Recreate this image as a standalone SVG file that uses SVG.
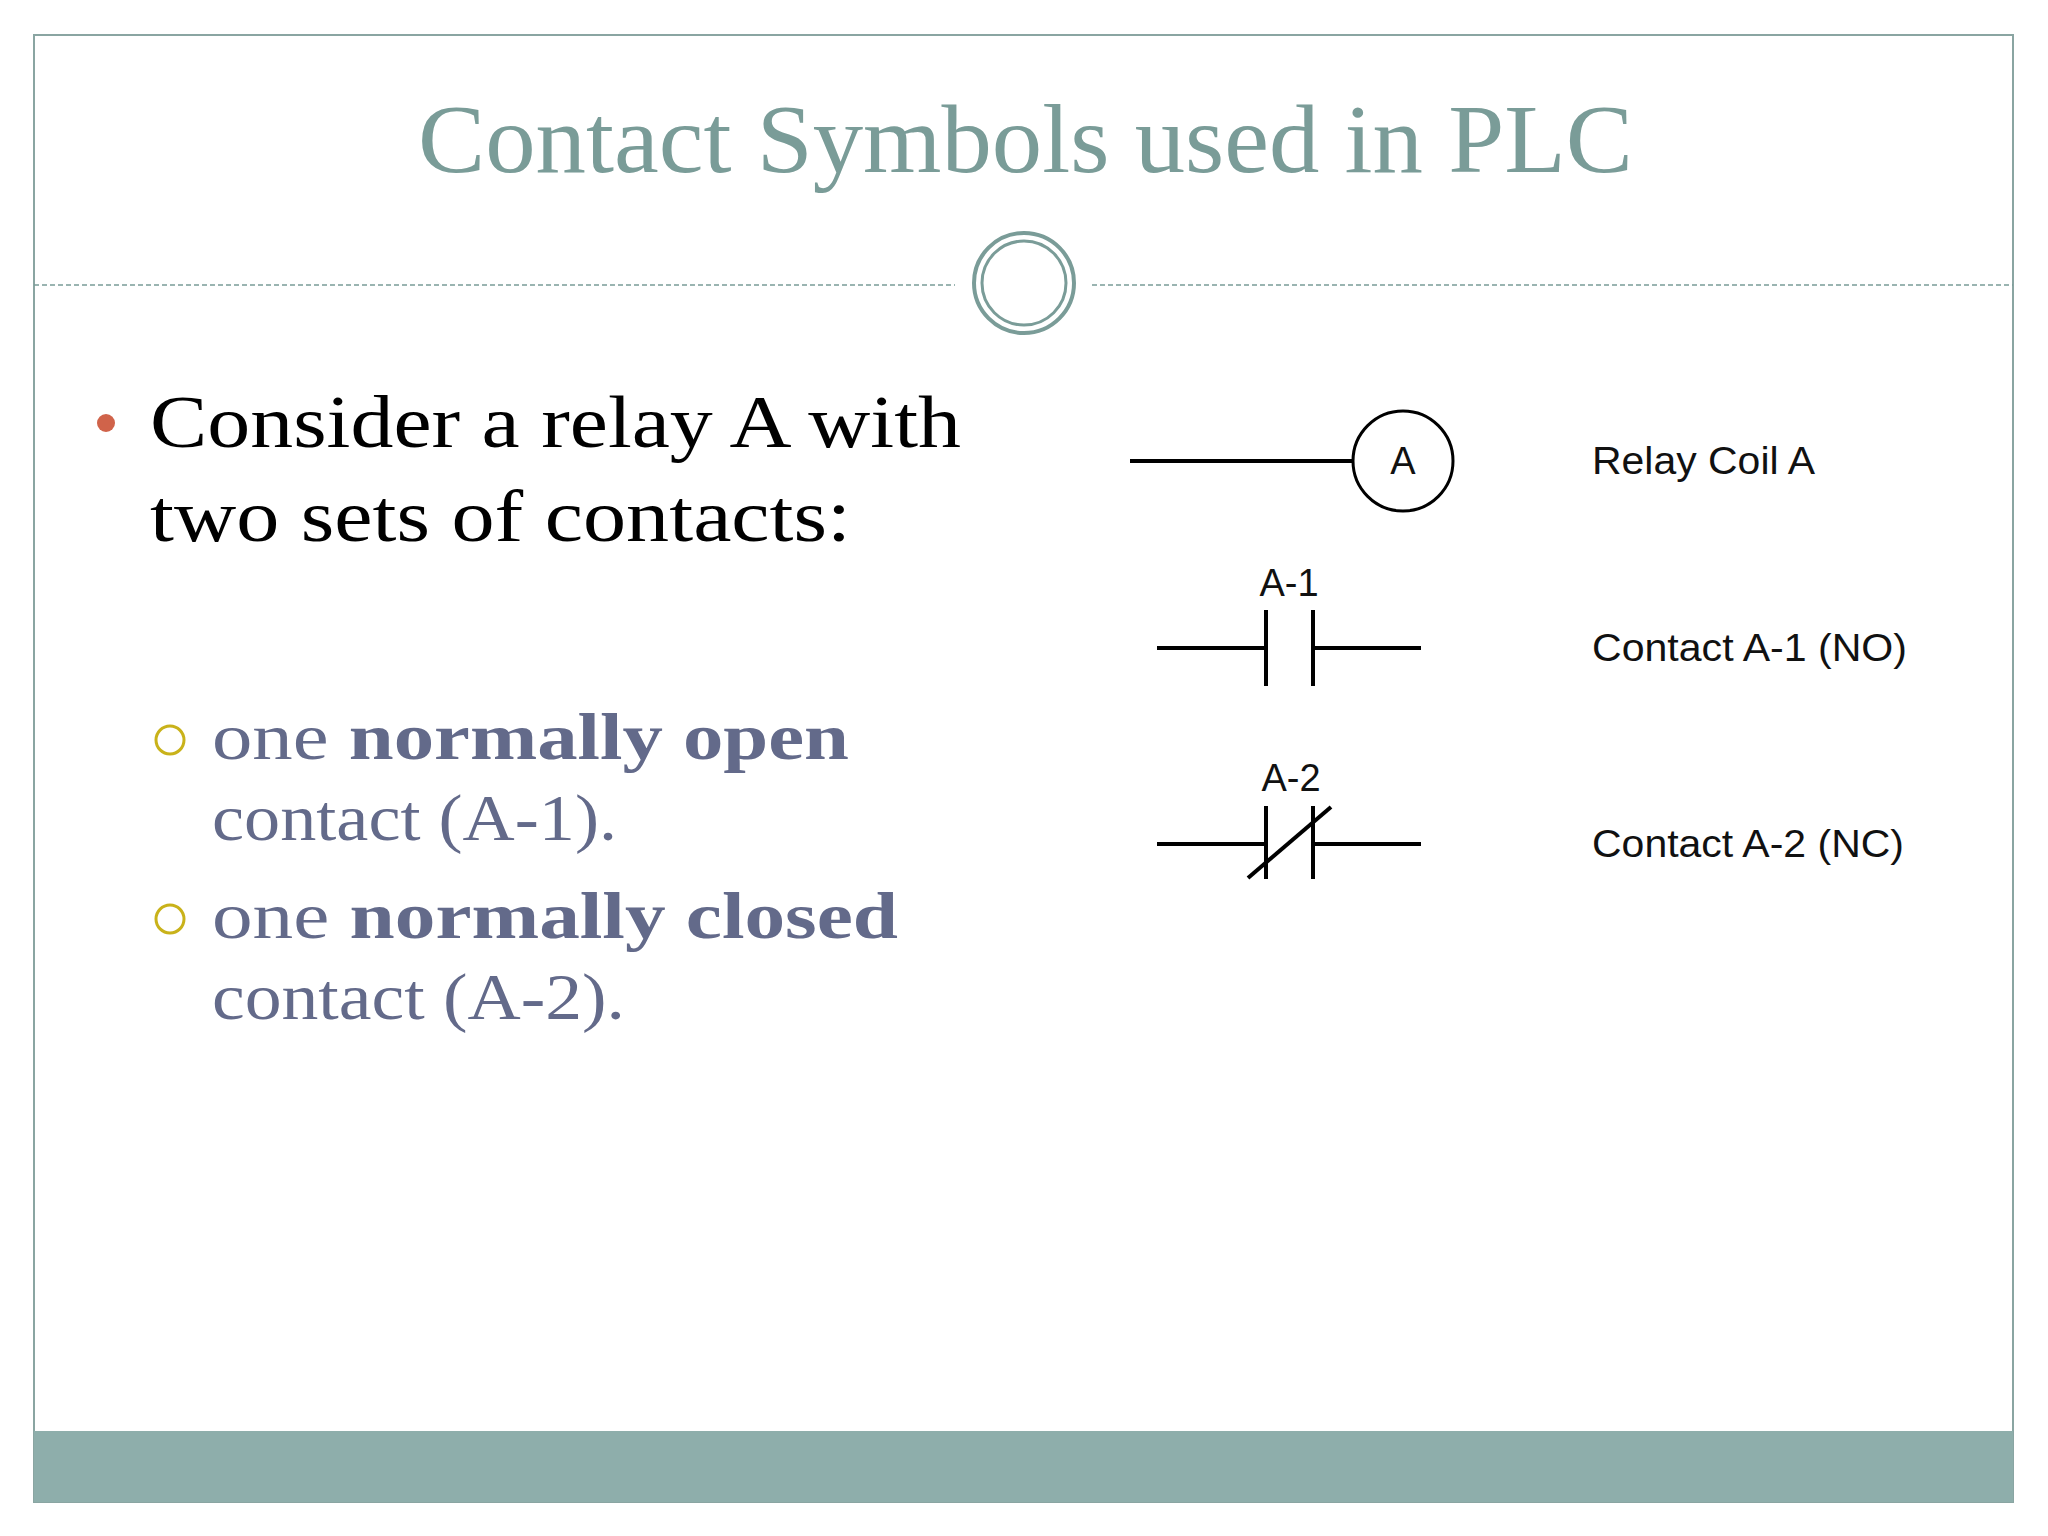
<svg xmlns="http://www.w3.org/2000/svg" width="2048" height="1536" viewBox="0 0 2048 1536">
<style>
.sym{stroke:#000;stroke-width:4;fill:none}
.lbl{font-family:"Liberation Sans",Arial,sans-serif;font-size:38px;fill:#111}
.body{font-family:"Liberation Serif","DejaVu Serif",serif;font-size:74px;fill:#000}
.sub{font-family:"Liberation Serif","DejaVu Serif",serif;font-size:66px;fill:#636a8a}
</style>
<rect width="2048" height="1536" fill="#fff"/>
<rect x="34" y="35" width="1979" height="1467" fill="none" stroke="#8aa5a2" stroke-width="2"/>
<rect x="34" y="1431" width="1979" height="71" fill="#8eaeab"/>
<text x="418" y="172" textLength="1215" lengthAdjust="spacingAndGlyphs" font-family="Liberation Serif,serif" font-size="98" fill="#7a9c98">Contact Symbols used in PLC</text>
<g id="divider">
<line x1="34" y1="285" x2="955" y2="285" stroke="#7a9c98" stroke-width="1.5" stroke-dasharray="5,3"/>
<line x1="1092" y1="285" x2="2013" y2="285" stroke="#7a9c98" stroke-width="1.5" stroke-dasharray="5,3"/>
<circle cx="1024" cy="283" r="50" fill="#fff" stroke="#7a9c98" stroke-width="4"/>
<circle cx="1024" cy="283" r="42" fill="none" stroke="#7a9c98" stroke-width="3"/>
</g>
<g id="bullets">
<circle cx="106" cy="423" r="9" fill="#d0634a"/>
<text class="body" x="150" y="447" textLength="811" lengthAdjust="spacingAndGlyphs">Consider a relay A with</text>
<text class="body" x="150" y="541" textLength="701" lengthAdjust="spacingAndGlyphs">two sets of contacts:</text>
<circle cx="170" cy="740" r="14" fill="none" stroke="#c9b21a" stroke-width="3"/>
<text class="sub" x="212" y="759" textLength="637" lengthAdjust="spacingAndGlyphs">one <tspan font-weight="bold">normally open</tspan></text>
<text class="sub" x="212" y="840" textLength="405" lengthAdjust="spacingAndGlyphs">contact (A-1).</text>
<circle cx="170" cy="919" r="14" fill="none" stroke="#c9b21a" stroke-width="3"/>
<text class="sub" x="212" y="938" textLength="686" lengthAdjust="spacingAndGlyphs">one <tspan font-weight="bold">normally closed</tspan></text>
<text class="sub" x="212" y="1019" textLength="413" lengthAdjust="spacingAndGlyphs">contact (A-2).</text>
</g>
<g id="coil">
<line class="sym" x1="1130" y1="461" x2="1353" y2="461"/>
<circle cx="1403" cy="461" r="50" fill="none" stroke="#000" stroke-width="3"/>
<text class="lbl" x="1403" y="474" text-anchor="middle">A</text>
<text class="lbl" x="1592" y="474" textLength="223" lengthAdjust="spacingAndGlyphs">Relay Coil A</text>
</g>
<g id="contact-no">
<text class="lbl" x="1289" y="596" text-anchor="middle">A-1</text>
<line class="sym" x1="1157" y1="648" x2="1266" y2="648"/>
<line class="sym" x1="1266" y1="610" x2="1266" y2="686" stroke-width="5"/>
<line class="sym" x1="1313" y1="610" x2="1313" y2="686" stroke-width="5"/>
<line class="sym" x1="1313" y1="648" x2="1421" y2="648"/>
<text class="lbl" x="1592" y="661" textLength="315" lengthAdjust="spacingAndGlyphs">Contact A-1 (NO)</text>
</g>
<g id="contact-nc">
<text class="lbl" x="1291" y="791" text-anchor="middle">A-2</text>
<line class="sym" x1="1157" y1="844" x2="1266" y2="844"/>
<line class="sym" x1="1266" y1="806" x2="1266" y2="879" stroke-width="5"/>
<line class="sym" x1="1313" y1="806" x2="1313" y2="879" stroke-width="5"/>
<line class="sym" x1="1313" y1="844" x2="1421" y2="844"/>
<line class="sym" x1="1248" y1="878" x2="1331" y2="807" stroke-width="3"/>
<text class="lbl" x="1592" y="857" textLength="312" lengthAdjust="spacingAndGlyphs">Contact A-2 (NC)</text>
</g>
</svg>
